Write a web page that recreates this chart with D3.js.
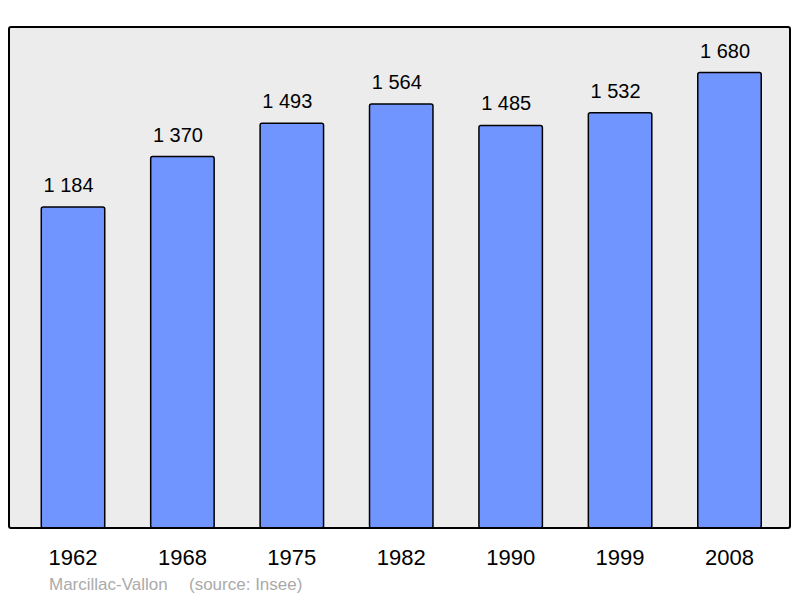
<!DOCTYPE html>
<html>
<head>
<meta charset="utf-8">
<script src="https://cdn.jsdelivr.net/npm/d3@7"></script>
<style>
  body { margin: 0; background: #fff; }
  text { font-family: "Liberation Sans", Arial, sans-serif; }
</style>
</head>
<body>
<div id="chart"></div>
<script>
const years = ['1962', '1968', '1975', '1982', '1990', '1999', '2008'];
const population = [1184, 1370, 1493, 1564, 1485, 1532, 1680];
const place = 'Marcillac-Vallon';
const source = '(source: Insee)';

const width = 800, height = 598;
const frame = { left: 9, top: 27, right: 790, bottom: 528 };

const svg = d3.select('#chart')
    .append('svg')
    .attr('width', width)
    .attr('height', height);

// plot background
svg.append('rect')
    .attr('x', frame.left)
    .attr('y', frame.top)
    .attr('width', frame.right - frame.left)
    .attr('height', frame.bottom - frame.top)
    .attr('rx', 2)
    .attr('fill', '#ececec');

const xScale = d3.scaleBand()
    .domain(years)
    .range([18.3, 784.2])
    .paddingInner(0.42)
    .paddingOuter(0.21);

const yScale = d3.scaleLinear()
    .domain([0, d3.max(population) * 1.1])
    .range([frame.bottom, frame.top]);

const data = years.map((y, i) => ({ year: y, value: population[i] }));

svg.selectAll('rect.bar')
    .data(data)
    .enter()
    .append('rect')
    .attr('class', 'bar')
    .attr('x', d => xScale(d.year))
    .attr('y', d => yScale(d.value))
    .attr('width', xScale.bandwidth())
    .attr('height', d => frame.bottom - yScale(d.value))
    .attr('rx', 2)
    .attr('fill', '#7095ff')
    .attr('stroke', '#000')
    .attr('stroke-width', 1.5);

// thousands separated by a plain space, as in the original
const fmt = v => d3.format(',')(v).replace(',', ' ');

svg.selectAll('text.value')
    .data(data)
    .enter()
    .append('text')
    .attr('class', 'value')
    .attr('x', d => xScale(d.year) + xScale.bandwidth() / 2 - 4.5)
    .attr('y', d => yScale(d.value) - 15)
    .attr('text-anchor', 'middle')
    .attr('font-size', 20)
    .attr('fill', '#000')
    .text(d => fmt(d.value));

// frame border on top
svg.append('rect')
    .attr('x', frame.left)
    .attr('y', frame.top)
    .attr('width', frame.right - frame.left)
    .attr('height', frame.bottom - frame.top)
    .attr('rx', 2)
    .attr('fill', 'none')
    .attr('stroke', '#000')
    .attr('stroke-width', 2);

const xAxis = d3.axisBottom(xScale).tickSize(0).tickPadding(0);
const axisG = svg.append('g')
    .attr('transform', 'translate(0,' + frame.bottom + ')')
    .call(xAxis);
axisG.select('.domain').remove();
axisG.selectAll('text')
    .attr('y', 37)
    .attr('dy', 0)
    .attr('font-size', 22)
    .attr('font-family', '"Liberation Sans", Arial, sans-serif')
    .attr('fill', '#000');

svg.append('text')
    .attr('x', 49)
    .attr('y', 590)
    .attr('font-size', 17)
    .attr('fill', '#aaaaaa')
    .text(place);

svg.append('text')
    .attr('x', 189)
    .attr('y', 590)
    .attr('font-size', 17)
    .attr('fill', '#aaaaaa')
    .text(source);
</script>
</body>
</html>
